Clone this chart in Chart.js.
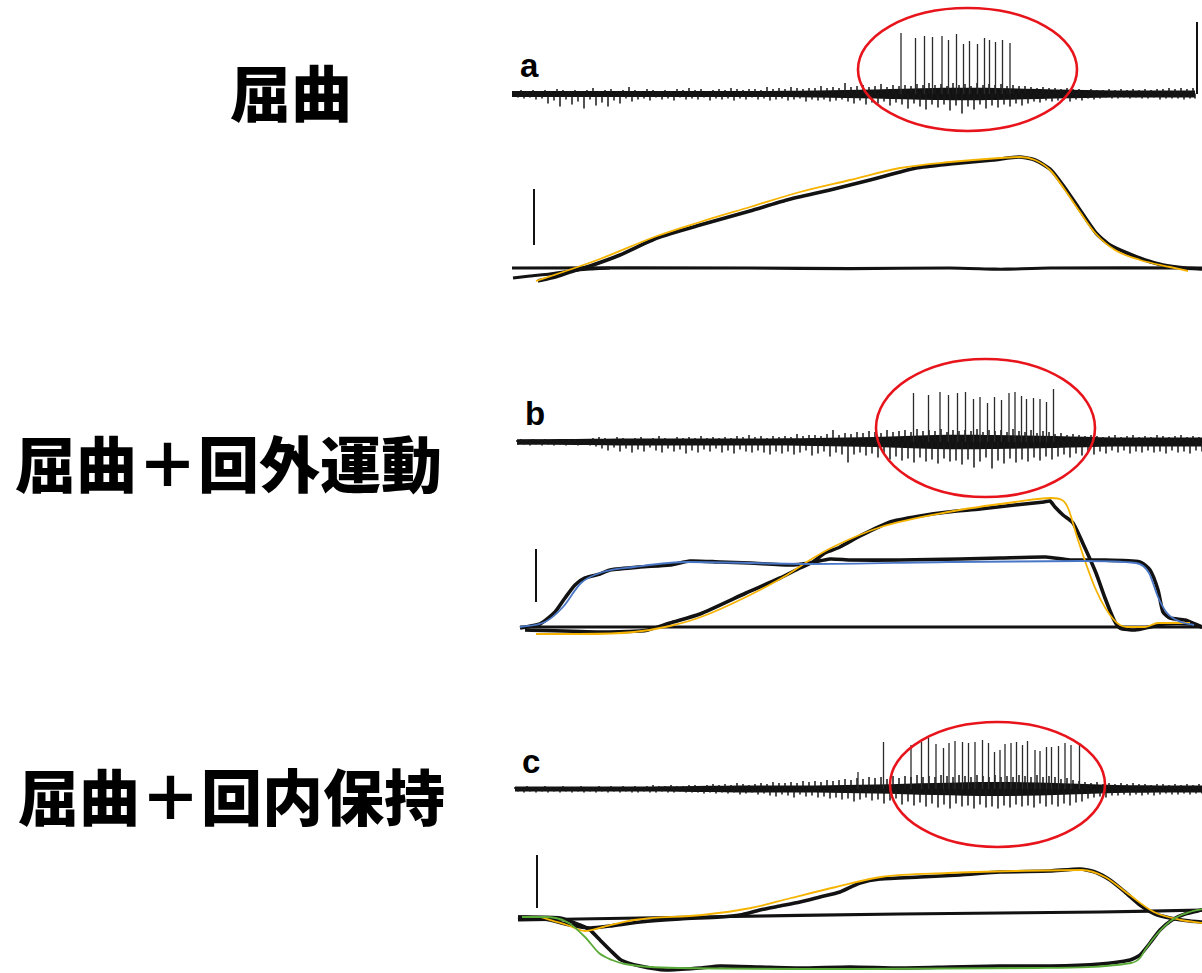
<!DOCTYPE html>
<html lang="ja">
<head>
<meta charset="utf-8">
<title>屈曲・回外運動・回内保持時の単一ユニット発火と関節角度</title>
<script src="https://cdn.jsdelivr.net/npm/chart.js@4.4.1/dist/chart.umd.min.js"></script>
<style>
  html, body { margin: 0; padding: 0; background: #fff; }
  #fig { position: relative; width: 1202px; height: 973px; overflow: hidden; background: #fff; }
  .cond { position: absolute; font-family: "Noto Sans CJK JP", sans-serif; font-weight: 900;
          font-size: 61px; line-height: 61px; color: #000; white-space: nowrap; }
  .tag  { position: absolute; font-family: "Liberation Sans", Arial, sans-serif; font-weight: 700;
          font-size: 33px; line-height: 33px; color: #000; }
  canvas { position: absolute; left: 500px; }
</style>
</head>
<body>
<div id="fig">
  <div class="cond" style="left:230px; top:60px;">屈曲</div>
  <div class="cond" style="left:15px; top:431px;">屈曲＋回外運動</div>
  <div class="cond" style="left:18px; top:764px;">屈曲＋回内保持</div>
  <div class="tag" style="left:520px; top:49px;">a</div>
  <div class="tag" style="left:525px; top:397px;">b</div>
  <div class="tag" style="left:522px; top:745px;">c</div>
  <canvas id="pa" width="702" height="300" style="top:0px;"></canvas>
  <canvas id="pb" width="702" height="315" style="top:340px;"></canvas>
  <canvas id="pc" width="702" height="283" style="top:690px;"></canvas>
</div>
<script>
// ---- time base (ms) -------------------------------------------------------
const SWEEP_MS = 1404;
const HAIR_T0 = 30, HAIR_STEP = 12;          // noise comb sampled every 12 ms
const CORE_T = [30, 150, 270, 390, 510, 630, 750, 870, 990, 1110, 1230, 1350];

// ---- a: 屈曲 ---------------------------------------------------------------
const aSweep = [24, 1390];
const aSpikeT = [802, 831, 849, 865, 884, 897, 913, 927, 939, 955, 969, 979, 991, 1005, 1020];
const aSpikeH = [61, 56, 58, 57, 58, 54, 60, 50, 53, 50, 56, 54, 52, 54, 51];
const aHairUp = [3,4,3,4,3, 4,3,5,4,3, 4,3,4,6,3, 4,5,3,4,7, 4,3,5,4,3, 4,3,5,4,6, 4,5,3,4,5, 4,6,5,4,5,
  5,4,7,5,6, 5,7,6,5,6, 6,8,6,7,6, 11,7,8,9,7, 8,10,7,9,8, 9,8,10,9,11, 9,10,8,11,9, 10,8,11,9,10,
  9,10,8,9,8, 8,7,6,7,6, 6,5,6,5,5, 4,5,4,4,5, 4,5,4,5,4, 5,4,5,5,6, 5,6,5,6,0];
const aHairDn = [3,4,3,5,4, 9,6,12,5,10, 7,14,5,11,8, 12,6,9,4,7, 5,4,6,3,5, 4,6,3,5,4, 5,3,6,4,5, 4,6,4,5,3,
  5,4,6,5,4, 6,5,4,7,5, 6,5,7,6,5, 7,9,6,10,8, 9,7,11,8,10, 14,9,12,15,10, 13,10,16,11,19, 12,15,10,14,11,
  13,10,12,9,11, 9,7,8,6,7, 6,5,7,5,6, 4,5,4,3,4, 4,3,4,3,4, 4,3,5,4,4, 4,5,4,4,0];
const aCore = [3, 3, 3, 3, 3, 3.5, 4.5, 6, 6, 4.5, 3.5, 3.5];
const aEllipse = [935, 24.5, 219, 61.5];     // centre t, centre amp, radius t, radius amp
const aMarker = [1394, 72];                  // sweep-end marker: t, height
const aCal = [68, 11.5, 39.5];               // angle calibration: t, from deg, to deg
const aRef = [[24,0],[500,0],[700,-0.3],[900,0],[990,-0.6],[1012,-0.6],[1100,0],[1404,0]];
const aReturn = [[26,-5],[60,-4],[100,-3],[140,-1.5],[180,-0.5],[220,0]];
const aFlex = [[76,-6.5],[110,-4.5],[140,-2],[180,1],[240,6.5],[314,15],[400,21.5],[500,28.5],[574,34],
  [660,39],[740,44],[832,50],[900,52],[986,54],[1038,55.5],[1070,54],[1102,49],[1130,40],[1156,30.5],
  [1192,17.5],[1220,11.5],[1254,7.5],[1290,4],[1326,1.5],[1370,0],[1404,-0.5]];
const aFlexFit = [[72,-6.5],[120,-2.5],[200,4.5],[314,16],[400,23],[500,30.5],[600,38],[700,44],[800,50],
  [900,53],[1000,55],[1040,55.5],[1070,54],[1100,49],[1130,39],[1160,28],[1192,17],[1230,9],[1280,4],
  [1340,0.5],[1376,-1.5]];

// ---- b: 屈曲＋回外運動 -------------------------------------------------------
const bSweep = [34, 1404];
const bSpikeT = [827, 857, 880, 897, 915, 931, 947, 960, 975, 989, 1003, 1018, 1030, 1043, 1053, 1067, 1080, 1093, 1107];
const bSpikeH = [49, 47, 50, 47, 49, 50, 43, 45, 39, 45, 42, 49, 50, 46, 43, 44, 43, 40, 53];
const bHairUp = [2,3,2,3,2, 3,2,3,2,3, 3,2,3,4,5, 4,3,5,4,3, 4,5,3,4,6, 4,3,5,4,5, 4,6,4,5,4, 5,4,6,5,7,
  5,6,4,6,5, 6,5,8,6,7, 7,6,8,12,7, 9,8,10,9,11, 10,9,12,10,11, 12,10,13,11,12, 11,13,10,12,11, 12,11,13,10,12,
  11,12,10,13,11, 10,12,9,11,10, 8,9,7,8,7, 6,7,6,5,6, 7,5,6,7,5, 6,5,7,6,5, 6,7,5,6,5];
const bHairDn = [2,2,3,2,3, 2,3,2,3,2, 3,2,3,4,6, 8,5,9,6,10, 7,9,5,8,10, 6,9,7,11,8, 10,7,9,6,10, 8,11,7,9,10,
  8,10,12,9,11, 9,12,10,8,13, 11,9,14,10,12, 20,12,10,13,11, 15,12,17,14,18, 16,20,15,19,17, 21,16,19,18,22,
  17,25,19,15,26, 18,21,16,20,17, 19,15,18,14,17, 14,12,15,11,13, 10,12,9,11,8, 10,8,11,9,10, 8,10,9,11,8,
  10,9,11,8,9];
const bCore = [2.5, 3, 3.5, 3.5, 3.5, 4, 5, 7, 7, 6, 4.5, 4.5];
const bEllipse = [971, 14, 219, 69];
const bCal = [72, 12.5, 39];
const bRef = [[40,0],[400,0],[800,0],[1200,0],[1404,0]];
const bSupin = [[40,-0.5],[80,1.5],[110,7.5],[130,14.5],[150,21],[170,24.5],[200,26.5],[220,28.5],[280,30],
  [340,31],[380,33],[440,32.5],[500,32],[580,31],[620,32],[660,34],[700,33.5],[800,33.5],[920,34],[1000,34.5],
  [1092,35],[1140,33.5],[1200,33.5],[1280,32.5],[1300,28.5],[1316,18.5],[1326,7.5],[1340,4.5],[1370,3.5],
  [1390,1.5],[1404,0]];
const bSupinFit = [[40,0],[90,2.5],[126,10],[162,22],[206,27.5],[268,30],[376,32.5],[626,31.5],[896,32.5],
  [1164,33],[1272,32],[1298,27],[1316,15],[1334,7],[1362,2.5],[1388,1]];
const bFlex = [[50,-1.5],[200,-2.5],[280,-2],[296,-1.5],[340,2],[400,6.5],[492,17],[560,24.5],[600,29.5],
  [626,32.5],[650,37],[680,40],[720,45.5],[780,52.5],[840,55.5],[896,57.5],[960,59],[1030,61],[1088,62.5],
  [1100,63],[1110,60],[1126,56],[1146,52],[1170,39.5],[1192,27],[1210,14.5],[1228,3.5],[1240,-0.5],
  [1270,-1.5],[1300,0],[1330,1.5],[1380,1.5],[1404,0]];
const bFlexFit = [[72,-3.5],[160,-3.5],[268,-2.5],[340,0.5],[402,5],[492,15],[574,26],[620,33.5],[662,39.5],
  [762,50],[896,57.5],[1030,62.5],[1102,64.5],[1124,63.5],[1136,59.5],[1156,43.5],[1192,18.5],[1228,3.5],
  [1254,0],[1290,0],[1316,2],[1380,2]];

// ---- c: 屈曲＋回内保持 -------------------------------------------------------
const cSweep = [30, 1404];
const cSpikeT = [716, 767, 822, 843, 857, 872, 887, 898, 910, 925, 937, 950, 965, 977, 989, 1000, 1010, 1022,
  1033, 1045, 1055, 1070, 1080, 1093, 1103, 1117, 1130, 1142, 1159];
const cSpikeH = [17, 47, 44, 47, 51, 45, 41, 46, 48, 47, 46, 47, 49, 46, 37, 39, 45, 46, 47, 44, 48, 39, 38,
  42, 42, 43, 46, 44, 46];
const cHairUp = [2,2,3,2,2, 3,2,2,3,2, 2,3,2,2,3, 2,3,2,3,2, 3,2,3,4,3, 3,4,3,3,4, 4,3,4,5,4, 5,4,6,5,4,
  5,6,5,7,6, 6,7,6,8,7, 8,7,9,8,9, 10,9,11,10,12, 11,12,10,13,11, 13,12,14,12,13, 12,14,13,12,14,
  13,12,14,13,12, 14,12,13,12,14, 13,12,14,12,13, 12,10,11,9,8, 7,6,7,5,6, 5,6,5,6,5, 5,4,5,5,4, 5,4,5,4,5];
const cHairDn = [2,3,2,3,2, 3,2,3,2,3, 2,3,2,3,2, 3,2,3,2,3, 3,2,3,3,2, 3,3,2,3,3, 3,4,3,4,3, 4,3,5,4,3,
  5,4,6,7,5, 6,8,5,7,6, 8,7,9,8,10, 9,12,10,8,11, 10,14,11,9,15, 12,16,13,17,14, 18,15,19,14,17,
  16,19,15,18,17, 19,16,18,15,17, 16,18,14,17,15, 17,14,16,13,12, 9,8,7,8,6, 6,5,6,5,6, 5,6,5,4,5, 5,4,5,4,4];
const cCore = [2.5, 2.5, 2.5, 3, 3.5, 3.5, 4.5, 6, 7, 6, 4, 3.5];
const cEllipse = [995, 4.5, 215, 62.5];
const cCal = [74, 6, 32.5];
const cRef = [[36,0],[400,1.5],[800,3],[1200,4],[1404,5]];
const cFlex = [[36,1.5],[90,0.5],[140,-2.5],[180,-4],[220,-3],[280,-1],[360,0.5],[440,1.5],[480,2.5],[520,5],
  [560,7],[600,9],[640,11.5],[680,14],[720,18.5],[760,20.5],[840,21.5],[920,22.5],[1000,24],[1100,24.5],
  [1160,25.5],[1190,24],[1220,20],[1250,14],[1280,7.5],[1310,3],[1340,1],[1380,-0.5],[1404,-1]];
const cFlexFit = [[80,1.5],[134,-2.5],[170,-5.5],[206,-3.5],[268,0],[404,2.5],[502,6],[582,11],[672,16.5],
  [762,21.5],[896,23.5],[1030,24.5],[1164,25],[1210,21.5],[1254,13.5],[1308,4],[1362,0],[1404,-1.5]];
const cPron = [[36,1.5],[120,1],[160,-2.5],[180,-5],[200,-10],[220,-15],[242,-20],[280,-23],[332,-25],
  [400,-24],[440,-23],[520,-23.5],[600,-24],[700,-23.5],[800,-24],[900,-23.5],[1000,-23],[1100,-23],
  [1200,-22],[1260,-20],[1280,-17.5],[1300,-11.5],[1320,-5],[1344,0],[1370,3],[1404,5]];
const cPronFit = [[44,1.5],[90,1.5],[134,-1],[170,-8.5],[198,-16.5],[224,-20],[250,-22],[358,-24],[716,-24.5],
  [1074,-24],[1262,-21.5],[1280,-19],[1290,-15],[1316,-6.5],[1344,0],[1380,4],[1404,5.5]];

// ---- colours ----------------------------------------------------------------
const INK = '#121212', ORANGE = '#f5b300', BLUE = '#4a76c6', GREEN = '#5aab38', RED = '#e8141b';

// ---- panel placement (canvas px): top, height, spike baseline, 0° line ------
const PX_PER_DEG = 2;
const LAYOUT = {
  pa: { top: 0,   height: 300, spikeBase: 94,  angleZero: 268 },
  pb: { top: 340, height: 315, spikeBase: 442, angleZero: 627 },
  pc: { top: 690, height: 283, spikeBase: 789, angleZero: 920 }
};

const pts = arr => arr.map(([x, y]) => ({ x, y }));

function vertical(ts, lo, hi) {
  const d = [];
  ts.forEach((t, i) => { d.push({ x: t, y: lo[i] }, { x: t, y: hi[i] }, { x: t, y: null }); });
  return d;
}

function hairTimes(n, offset, sweep) {
  const ts = [];
  for (let i = 0; i < n; i++) ts.push(HAIR_T0 + i * HAIR_STEP + offset);
  return ts.map(t => Math.min(Math.max(t, sweep[0]), sweep[1]));
}

function coreEdge(core, sweep, sign) {
  const d = [{ x: sweep[0], y: sign * core[0] }];
  CORE_T.forEach((t, i) => d.push({ x: t, y: sign * core[i] }));
  d.push({ x: sweep[1], y: sign * core[core.length - 1] });
  return d;
}

const ellipsePlugin = {
  id: 'unitEllipse',
  afterDatasetsDraw(chart, args, opts) {
    if (!opts || !opts.shape) return;
    const [t, a, rt, ra] = opts.shape;
    const xs = chart.scales.x, ys = chart.scales.ySpk;
    const cx = xs.getPixelForValue(t), cy = ys.getPixelForValue(a);
    const rx = Math.abs(xs.getPixelForValue(t + rt) - cx);
    const ry = Math.abs(ys.getPixelForValue(a + ra) - cy);
    const ctx = chart.ctx;
    ctx.save();
    ctx.strokeStyle = opts.color; ctx.lineWidth = opts.width;
    ctx.beginPath(); ctx.ellipse(cx, cy, rx, ry, 0, 0, Math.PI * 2); ctx.stroke();
    ctx.restore();
  }
};

function line(data, axis, color, width, order, extra) {
  return Object.assign({
    data, yAxisID: axis, borderColor: color, borderWidth: width, pointRadius: 0,
    fill: false, order, tension: 0, spanGaps: false, borderCapStyle: 'butt', borderJoinStyle: 'round'
  }, extra || {});
}

function makePanel(id, p) {
  const L = LAYOUT[id];
  const n = p.up.length;
  const upT = hairTimes(n, 0, p.sweep), dnT = hairTimes(n, 6, p.sweep);
  const zeros = new Array(n).fill(0);
  const datasets = [
    // spike trace: thick core band, noise comb, unit spikes
    line(coreEdge(p.core, p.sweep, 1), 'ySpk', INK, 0, 30, { fill: 'origin', backgroundColor: INK, tension: 0.35 }),
    line(coreEdge(p.core, p.sweep, -1), 'ySpk', INK, 0, 30, { fill: 'origin', backgroundColor: INK, tension: 0.35 }),
    line(pts([[p.sweep[0], 0], [p.sweep[1], 0]]), 'ySpk', INK, 4, 29),
    line(vertical(upT, zeros, p.up), 'ySpk', '#181818', 1.5, 28),
    line(vertical(dnT, zeros, p.dn.map(v => -v)), 'ySpk', '#181818', 1.5, 28),
    line(vertical(p.spikeT, zeros, p.spikeH), 'ySpk', '#2b2b2b', 1.3, 27),
    // angle calibration bar
    line(pts([[p.cal[0], p.cal[1]], [p.cal[0], p.cal[2]]]), 'yAng', INK, 2, 20)
  ];
  if (p.marker) datasets.push(line(pts([[p.marker[0], 0], [p.marker[0], p.marker[1]]]), 'ySpk', INK, 2, 26));
  p.curves.forEach(c => datasets.push(line(pts(c.data), 'yAng', c.color, c.width, c.order,
    c.smooth ? { cubicInterpolationMode: 'monotone' } : { tension: 0.2 })));

  new Chart(document.getElementById(id), {
    type: 'line',
    data: { datasets },
    options: {
      responsive: false, animation: false, devicePixelRatio: 1,
      layout: { padding: 0 },
      events: [],
      plugins: {
        legend: { display: false }, tooltip: { enabled: false },
        unitEllipse: { shape: p.ellipse, color: RED, width: 2.6 }
      },
      scales: {
        x: { type: 'linear', min: 0, max: SWEEP_MS, display: false },
        ySpk: { type: 'linear', display: false,
                max: L.spikeBase - L.top, min: L.spikeBase - L.top - L.height },
        yAng: { type: 'linear', display: false,
                max: (L.angleZero - L.top) / PX_PER_DEG, min: (L.angleZero - L.top - L.height) / PX_PER_DEG }
      }
    },
    plugins: [ellipsePlugin]
  });
}

makePanel('pa', {
  sweep: aSweep, spikeT: aSpikeT, spikeH: aSpikeH, up: aHairUp, dn: aHairDn, core: aCore,
  ellipse: aEllipse, cal: aCal, marker: aMarker,
  curves: [
    { data: aRef, color: INK, width: 3.2, order: 12 },
    { data: aReturn, color: INK, width: 3.2, order: 12 },
    { data: aFlex, color: INK, width: 3.6, order: 11 },
    { data: aFlexFit, color: ORANGE, width: 1.8, order: 1, smooth: true }
  ]
});

makePanel('pb', {
  sweep: bSweep, spikeT: bSpikeT, spikeH: bSpikeH, up: bHairUp, dn: bHairDn, core: bCore,
  ellipse: bEllipse, cal: bCal,
  curves: [
    { data: bRef, color: INK, width: 3.2, order: 12 },
    { data: bSupin, color: INK, width: 3.6, order: 11 },
    { data: bFlex, color: INK, width: 3.6, order: 11 },
    { data: bSupinFit, color: BLUE, width: 1.8, order: 1, smooth: true },
    { data: bFlexFit, color: ORANGE, width: 1.8, order: 1, smooth: true }
  ]
});

makePanel('pc', {
  sweep: cSweep, spikeT: cSpikeT, spikeH: cSpikeH, up: cHairUp, dn: cHairDn, core: cCore,
  ellipse: cEllipse, cal: cCal,
  curves: [
    { data: cRef, color: INK, width: 3.2, order: 12 },
    { data: cFlex, color: INK, width: 3.6, order: 11 },
    { data: cPron, color: INK, width: 3.6, order: 11 },
    { data: cPronFit, color: GREEN, width: 1.8, order: 1, smooth: true },
    { data: cFlexFit, color: ORANGE, width: 1.8, order: 1, smooth: true }
  ]
});
</script>
</body>
</html>
